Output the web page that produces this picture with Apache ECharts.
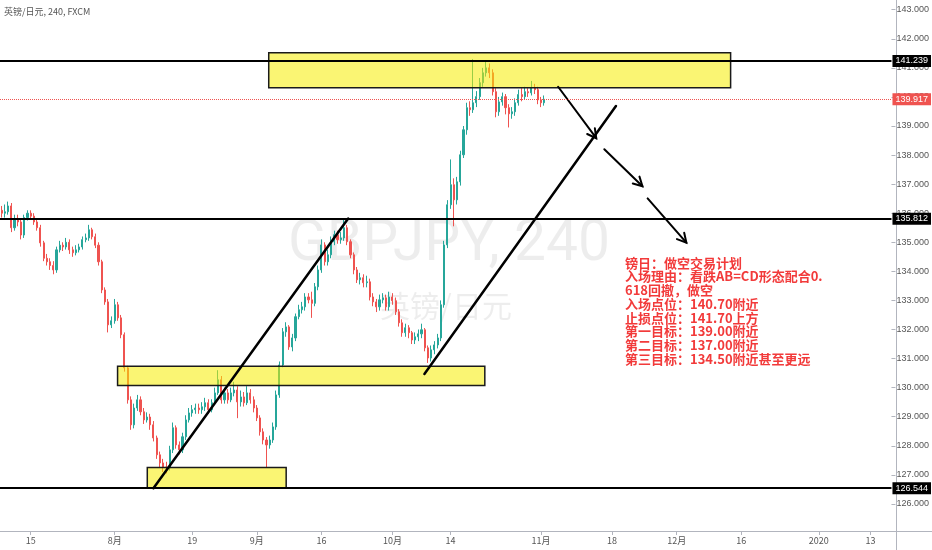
<!DOCTYPE html>
<html><head><meta charset="utf-8">
<script src="https://cdn.jsdelivr.net/npm/echarts@6/dist/echarts.min.js"></script>
<style>html,body{margin:0;padding:0;background:#fff}#c{width:932px;height:550px}</style>
</head><body><div id="c"></div>
<script>
// ---- data (half-day candles, GBPJPY) ----
const firstOpen = 136.10;
const closes = [
136.00,136.05,136.25,135.50,135.80,135.70,135.25,135.85,136.00,135.90,
135.70,135.50,134.98,134.45,134.33,134.20,134.05,134.74,134.90,134.84,
135.00,134.74,134.64,134.74,134.84,135.09,135.15,135.43,135.19,134.90,
134.33,133.36,132.95,132.16,132.30,132.85,132.40,131.82,130.68,129.58,
128.72,
129.30,129.58,129.17,128.89,128.99,128.72,128.27,127.69,127.41,127.27,
127.24,127.86,128.62,128.03,127.86,128.31,128.89,129.13,129.24,129.30,
129.24,129.34,129.48,129.24,129.48,129.82,130.27,129.58,129.82,129.58,
129.82,129.92,129.51,129.68,129.48,129.82,129.58,129.30,128.96,128.48,
128.20,128.03,128.20,128.65,129.75,130.78,131.92,132.09,131.40,131.71,
132.44,132.68,132.78,133.12,133.02,132.90,133.47,134.05,134.91,
134.33,
134.57,135.02,135.26,135.09,135.15,135.50,135.02,134.57,134.05,133.71,
133.78,133.61,133.64,133.12,132.95,132.78,133.02,133.09,132.78,133.12,
132.99,132.61,132.23,131.89,132.06,131.89,131.64,131.75,131.85,131.99,
131.37,131.02,131.30,131.47,131.71,132.85,134.91,136.29,136.98,136.46,
137.08,138.01,138.87,139.63,139.56,139.80,140.01,140.49,140.83,141.00,
140.83,140.18,139.49,139.83,140.01,139.63,139.42,139.49,139.80,140.08,
140.01,140.18,140.14,140.32,140.25,139.90,139.80,139.92
];
const highs = [
136.25,136.30,136.40,136.35,135.95,135.95,135.80,135.95,136.10,136.10,
136.00,135.80,135.60,135.05,134.60,134.45,134.35,134.85,135.05,135.00,
135.15,135.10,134.85,134.90,134.95,135.20,135.30,135.60,135.50,135.30,
135.00,134.40,133.45,133.05,132.45,133.05,132.95,132.50,131.90,130.75,
129.70,129.45,129.75,129.70,129.30,129.15,129.10,128.85,128.35,127.80,
127.55,127.45,128.00,128.80,128.70,128.15,128.45,129.05,129.30,129.40,
129.45,129.45,129.50,129.65,129.60,129.60,130.00,130.60,130.40,130.00,
129.95,130.00,130.20,130.05,129.90,129.85,130.05,129.95,129.70,129.40,
129.05,128.60,128.30,128.35,128.80,129.90,130.90,132.05,132.25,132.15,
131.85,132.55,132.85,132.95,133.25,133.25,133.30,133.60,134.20,135.10,
135.00,134.75,135.20,135.40,135.40,135.35,135.80,135.60,135.10,134.65,
134.15,133.95,133.90,133.85,133.75,133.25,133.05,133.20,133.25,133.20,
133.30,133.25,133.10,132.70,132.35,132.20,132.15,131.95,131.90,132.00,
132.20,132.05,131.45,131.45,131.60,131.85,133.00,135.05,136.45,137.85,
137.20,137.25,138.15,139.00,139.80,139.85,141.30,140.20,140.65,141.00,
141.25,141.15,140.95,140.30,140.00,140.15,140.10,139.75,139.65,139.95,
140.25,140.30,140.35,140.30,140.55,140.45,140.35,140.00,140.05
];
const lows = [
135.85,135.85,135.95,135.35,135.40,135.55,135.10,135.15,135.75,135.80,
135.60,135.40,134.85,134.35,134.20,134.05,133.90,133.95,134.65,134.70,
134.75,134.60,134.50,134.55,134.65,134.75,135.00,135.05,135.10,134.80,
134.20,133.25,132.85,131.90,132.05,132.20,132.30,131.70,130.55,129.45,
128.55,128.60,129.20,129.05,128.75,128.80,128.55,128.15,127.55,127.25,
127.10,127.05,127.15,127.75,127.90,127.70,127.75,128.20,128.80,129.00,
129.10,129.10,129.10,129.20,129.10,129.15,129.40,129.75,129.45,129.45,
129.45,129.50,129.70,128.95,129.35,129.35,129.40,129.45,129.15,128.85,
128.35,128.05,127.25,127.90,128.10,128.55,129.65,130.70,131.75,131.30,
131.25,131.60,132.35,132.55,132.65,132.90,132.40,132.80,133.35,133.95,
134.20,134.20,134.45,134.90,134.95,134.95,135.05,134.90,134.45,133.90,
133.60,133.55,133.45,133.45,133.00,132.80,132.60,132.65,132.90,132.65,
132.65,132.85,132.50,132.10,131.75,131.75,131.70,131.50,131.50,131.60,
131.70,131.25,130.85,130.90,131.15,131.35,131.60,132.75,134.80,136.15,
135.55,136.30,136.95,137.90,138.70,139.35,139.45,139.65,139.90,140.35,
140.70,140.65,140.05,139.30,139.35,139.70,139.40,138.95,139.25,139.35,
139.70,139.85,139.90,140.00,140.05,140.10,139.75,139.65,139.70
];
const tickLabels = [
["2019-07-15","15"],["2019-08-01","8月"],["2019-08-19","19"],["2019-09-02","9月"],
["2019-09-16","16"],["2019-10-01","10月"],["2019-10-14","14"],["2019-11-01","11月"],
["2019-11-18","18"],["2019-12-02","12月"],["2019-12-16","16"],["2020-01-01","2020"],["2020-01-13","13"]
];
const levelLines = [141.239, 135.812, 126.544];
const lastPrice = 139.917;
// drawings: [candle index 1, price 1, candle index 2, price 2]
const zones = [[82.7,141.52,225.7,140.32],[35.9,130.74,149.6,130.07],[45.1,127.25,88.1,126.56]];
const trendLines = [[47.0,126.54,107.3,135.82],[130.9,130.47,190.2,139.69]];
const arrows = [[172.3,140.35,184.1,138.58],[186.6,138.20,198.4,136.93],[200.0,136.51,212.0,134.99]];
const planLines = [
"镑日：做空交易计划",
"入场理由：看跌AB=CD形态配合0.",
"618回撤，做空",
"入场点位：140.70附近",
"止损点位：141.70上方",
"第一目标：139.00附近",
"第二目标：137.00附近",
"第三目标：134.50附近甚至更远"
];

// ---- categories: half-day slots on trading days ----
const NCAT = 276;
const categories = [];
(function(){
  let d = new Date(Date.UTC(2019,6,8));
  let first = true;
  while (categories.length < NCAT) {
    const wd = d.getUTCDay();
    if (wd !== 0 && wd !== 6) {
      const s = d.toISOString().slice(0,10);
      if (!first) categories.push(s);
      if (categories.length < NCAT) categories.push(s + ' pm');
      first = false;
    }
    d = new Date(d.getTime() + 86400000);
  }
})();
const labelMap = {};
tickLabels.forEach(t => { labelMap[t[0]] = t[1]; });
const showTick = (i, v) => labelMap[v] !== undefined;

const candles = closes.map((c, k) => [k === 0 ? firstOpen : closes[k-1], c, lows[k], highs[k]]);

const chart = echarts.init(document.getElementById('c'));
const lvlLabel = (bg) => ({
  show: true, position: 'end', distance: 1, color: '#fff', backgroundColor: bg,
  fontSize: 9, fontFamily: 'Arial, "Liberation Sans", sans-serif', padding: [2, 3, 1, 3]
});

chart.setOption({
  animation: false,
  backgroundColor: '#fff',
  grid: { left: -3, right: 36, top: 1, bottom: 17 },
  xAxis: [
    {
      type: 'category', data: categories, boundaryGap: true, offset: -2,
      axisLine: { show: false, onZero: false },
      axisTick: { show: true, interval: showTick, alignWithLabel: true, length: 4, lineStyle: { color: '#b2b5be' } },
      axisLabel: { interval: showTick, formatter: v => labelMap[v] || '', fontSize: 9, color: '#555', margin: 5,
                   fontFamily: '"Noto Sans CJK SC", sans-serif' },
      splitLine: { show: false }
    },
    { type: 'value', min: -0.5, max: NCAT - 0.5, show: false, axisLine: { onZero: false } }
  ],
  yAxis: {
    type: 'value', position: 'right', min: 125, max: 143.3, interval: 1,
    axisLine: { show: false, onZero: false },
    axisTick: { show: true, length: 4, lineStyle: { color: '#b2b5be' } },
    axisLabel: { formatter: v => v.toFixed(3), fontSize: 9, color: '#555', margin: 5,
                 showMinLabel: false, showMaxLabel: false, fontFamily: 'Arial, "Liberation Sans", sans-serif' },
    splitLine: { show: false }
  },
  graphic: [
    { type: 'text', x: 449, y: 246, z: 0, silent: true,
      style: { text: 'GBPJPY, 240', font: '57px Roboto, sans-serif', fill: 'rgba(0,0,0,0.07)', align: 'center', verticalAlign: 'middle' } },
    { type: 'text', x: 446, y: 306, z: 0, silent: true,
      style: { text: '英镑/日元', font: '30px "Noto Sans CJK SC", sans-serif', fill: 'rgba(0,0,0,0.07)', align: 'center', verticalAlign: 'middle' } },
    { type: 'text', x: 4, y: 12, z: 10, silent: true,
      style: { text: '英镑/日元, 240, FXCM', font: '9px "Noto Sans CJK SC", sans-serif', fill: '#555', verticalAlign: 'middle' } },
    { type: 'text', x: 625, y: 256, z: 10, silent: true,
      style: { text: planLines.join('\n'), font: 'bold 13px "Noto Sans CJK SC", sans-serif', fill: '#f23a3a',
               lineHeight: 13.7, align: 'left', verticalAlign: 'top' } },
    { type: 'line', z: 1, silent: true, shape: { x1: 896.5, y1: 0, x2: 896.5, y2: 550 }, style: { stroke: '#b2b5be', lineWidth: 1 } },
    { type: 'line', z: 1, silent: true, shape: { x1: 0, y1: 531.5, x2: 932, y2: 531.5 }, style: { stroke: '#b2b5be', lineWidth: 1 } }
  ],
  series: [
    {
      type: 'candlestick', data: candles, barWidth: 1.6, z: 2,
      itemStyle: { color: '#26a69a', color0: '#ef5350', borderColor: '#26a69a', borderColor0: '#ef5350', borderWidth: 1 },
      markLine: {
        symbol: ['none', 'none'], silent: true, animation: false,
        data: levelLines.map(v => ({
          yAxis: v, lineStyle: { color: '#000', width: 2, type: 'solid' },
          label: Object.assign(lvlLabel('#000'), { formatter: v.toFixed(3) })
        })).concat([{
          yAxis: lastPrice, lineStyle: { color: '#ef5350', width: 1, type: 'dotted' },
          label: Object.assign(lvlLabel('#ef5350'), { formatter: lastPrice.toFixed(3) })
        }])
      }
    },
    {
      type: 'custom', xAxisIndex: 1, yAxisIndex: 0, z: 3, silent: true, data: zones,
      renderItem: (params, api) => {
        const a = api.coord([api.value(0), api.value(1)]);
        const b = api.coord([api.value(2), api.value(3)]);
        return { type: 'rect',
          shape: { x: Math.min(a[0], b[0]), y: Math.min(a[1], b[1]), width: Math.abs(b[0]-a[0]), height: Math.abs(b[1]-a[1]) },
          style: { fill: 'rgba(245,236,0,0.55)', stroke: '#1a1a1a', lineWidth: 1.5 } };
      }
    },
    {
      type: 'custom', xAxisIndex: 1, yAxisIndex: 0, z: 4, silent: true, data: trendLines,
      renderItem: (params, api) => {
        const a = api.coord([api.value(0), api.value(1)]);
        const b = api.coord([api.value(2), api.value(3)]);
        return { type: 'line', shape: { x1: a[0], y1: a[1], x2: b[0], y2: b[1] },
                 style: { stroke: '#000', lineWidth: 2.5, lineCap: 'round' } };
      }
    },
    {
      type: 'custom', xAxisIndex: 1, yAxisIndex: 0, z: 4, silent: true, data: arrows,
      renderItem: (params, api) => {
        const a = api.coord([api.value(0), api.value(1)]);
        const b = api.coord([api.value(2), api.value(3)]);
        const ang = Math.atan2(b[1]-a[1], b[0]-a[0]);
        const L = 10, s = 0.5;
        const w1 = [b[0] - L*Math.cos(ang - s), b[1] - L*Math.sin(ang - s)];
        const w2 = [b[0] - L*Math.cos(ang + s), b[1] - L*Math.sin(ang + s)];
        return { type: 'group', children: [
          { type: 'line', shape: { x1: a[0], y1: a[1], x2: b[0], y2: b[1] }, style: { stroke: '#000', lineWidth: 2, lineCap: 'round' } },
          { type: 'polyline', shape: { points: [w1, b, w2] }, style: { stroke: '#000', lineWidth: 2, fill: null, lineCap: 'round', lineJoin: 'miter' } }
        ] };
      }
    }
  ]
});
</script>
</body></html>
